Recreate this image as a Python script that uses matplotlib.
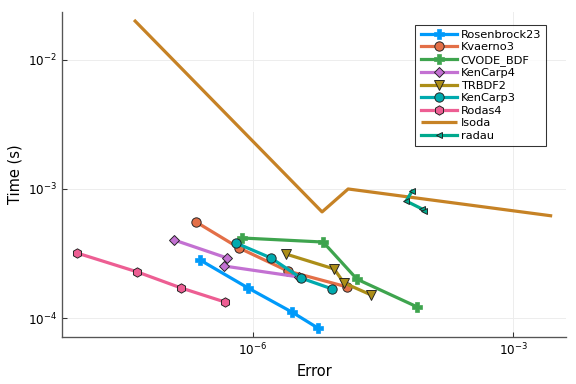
import matplotlib
matplotlib.use("Agg")
import matplotlib.pyplot as plt
from matplotlib.ticker import NullLocator

# work-precision data (error, time in s)
rosenbrock23_err = [2.44e-7, 8.75e-7, 2.82e-6, 5.62e-6]
rosenbrock23_time = [2.82e-4, 1.71e-4, 1.11e-4, 8.35e-5]

kvaerno3_err = [2.20e-7, 6.89e-7, 2.53e-6, 1.22e-5]
kvaerno3_time = [5.55e-4, 3.49e-4, 2.31e-4, 1.74e-4]

cvode_err = [7.47e-7, 6.43e-6, 1.58e-5, 7.80e-5]
cvode_time = [4.17e-4, 3.88e-4, 2.00e-4, 1.22e-4]

kencarp4_err = [1.22e-7, 5.01e-7, 4.62e-7, 3.40e-6]
kencarp4_time = [4.03e-4, 2.92e-4, 2.53e-4, 2.08e-4]

trbdf2_err = [2.40e-6, 8.61e-6, 1.12e-5, 2.30e-5]
trbdf2_time = [3.13e-4, 2.40e-4, 1.87e-4, 1.51e-4]

kencarp3_err = [6.37e-7, 1.61e-6, 3.58e-6, 8.17e-6]
kencarp3_time = [3.81e-4, 2.92e-4, 2.04e-4, 1.68e-4]

rodas4_err = [9.31e-9, 4.59e-8, 1.48e-7, 4.75e-7]
rodas4_time = [3.19e-4, 2.28e-4, 1.71e-4, 1.33e-4]

lsoda_err = [4.24e-8, 6.25e-6, 1.25e-5, 2.82e-3]
lsoda_time = [2.04e-2, 6.64e-4, 1.0e-3, 6.18e-4]

radau_err = [6.84e-5, 5.82e-5, 8.91e-5, 9.40e-5]
radau_time = [9.64e-4, 8.07e-4, 7.00e-4, 6.75e-4]

series = [
    ("Rosenbrock23", rosenbrock23_err, rosenbrock23_time, "#009AFA", "P"),
    ("Kvaerno3", kvaerno3_err, kvaerno3_time, "#E36F47", "o"),
    ("CVODE_BDF", cvode_err, cvode_time, "#3EA44E", "P"),
    ("KenCarp4", kencarp4_err, kencarp4_time, "#C371D2", "D"),
    ("TRBDF2", trbdf2_err, trbdf2_time, "#AC8E18", "v"),
    ("KenCarp3", kencarp3_err, kencarp3_time, "#00AAAE", "o"),
    ("Rodas4", rodas4_err, rodas4_time, "#ED5E93", "h"),
    ("lsoda", lsoda_err, lsoda_time, "#C68225", None),
    ("radau", radau_err, radau_time, "#00A98D", "<"),
]

fig = plt.figure(figsize=(6, 4), dpi=96)
ax = fig.add_axes([0.1076, 0.1224, 0.8754, 0.8466])

for name, x, y, col, mk in series:
    if mk is None:
        ax.plot(x, y, color=col, lw=2.4, label=name, solid_capstyle="butt")
    elif mk == "P":
        ax.plot(x, y, color=col, lw=2.4, marker=mk, ms=7, mec=col, mew=0.5, label=name)
    else:
        ms = {"D": 5.5, "<": 4.5}.get(mk, 7)
        ax.plot(x, y, color=col, lw=2.4, marker=mk, ms=ms, mec="#222222", mew=0.7, label=name)

ax.set_xscale("log")
ax.set_yscale("log")
ax.set_xlim(10 ** -8.204, 10 ** -2.388)
ax.set_ylim(10 ** -4.147, 10 ** -1.628)

ax.xaxis.set_major_locator(plt.FixedLocator([1e-6, 1e-3]))
ax.yaxis.set_major_locator(plt.FixedLocator([1e-4, 1e-3, 1e-2]))
ax.xaxis.set_minor_locator(NullLocator())
ax.yaxis.set_minor_locator(NullLocator())

ax.grid(True, color="#ececec", lw=0.7)
ax.set_axisbelow(True)
for s in ["top", "right"]:
    ax.spines[s].set_visible(False)
for s in ["left", "bottom"]:
    ax.spines[s].set_color("#555555")
    ax.spines[s].set_linewidth(1.0)
ax.tick_params(direction="in", length=4, width=0.8, colors="#333333", labelsize=9, labelcolor="black")

ax.set_xlabel("Error", fontsize=11)
ax.set_ylabel("Time (s)", fontsize=11)

leg = ax.legend(loc="upper right", bbox_to_anchor=(0.972, 0.978), fontsize=8.5,
                frameon=True, fancybox=False, edgecolor="black", handlelength=3.2,
                borderpad=0.45, labelspacing=0.22, handletextpad=0.35)
leg.get_frame().set_linewidth(0.8)

fig.savefig("out.png", dpi=96)
